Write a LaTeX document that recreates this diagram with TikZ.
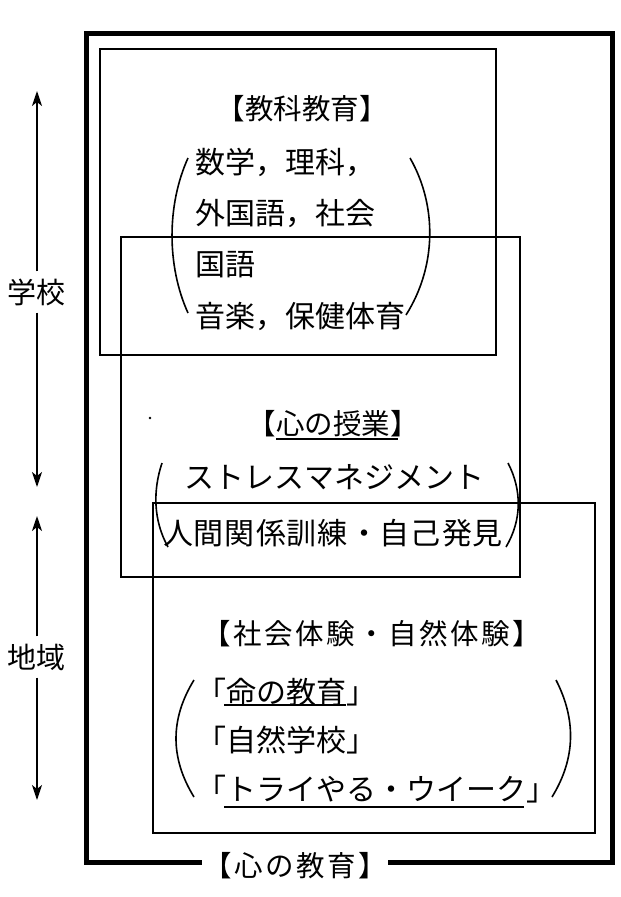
\documentclass[tikz,border=0pt]{standalone}
\usepackage{fontspec}
\setmainfont{Noto Sans CJK JP}
\usetikzlibrary{arrows.meta}
\makeatletter
\newcommand\sptext[2]{\@tfor\sp@c:=#2\do{\makebox[#1]{\sp@c}}}
\makeatother
\tikzset{
  hd/.style={inner sep=0pt, font=\fontsize{28.5pt}{30pt}\selectfont},
  bd/.style={inner sep=0pt, font=\fontsize{30pt}{32pt}\selectfont},
  side/.style={inner xsep=0pt, inner ysep=7pt, font=\fontsize{29pt}{30pt}\selectfont},
  arr/.style={-{Stealth[length=15pt,width=10pt,inset=4pt]}, line width=1.5pt},
  thinbox/.style={line width=1.3pt},
  paren/.style={line width=1.6pt},
}
\begin{document}
\begin{tikzpicture}[x=1pt,y=-1pt]
\useasboundingbox (0,0) rectangle (621,897);
% outer frame
\draw[line width=5pt] (86,33) rectangle (612,862);
% inner boxes
\draw[thinbox] (100,49) rectangle (496,355);
\draw[thinbox] (121,237) rectangle (520,577);
\draw[thinbox] (153,503) rectangle (595,833);
% box 1
\node[hd] (h1) at (302,109) {【教科教育】};
\node[bd, anchor=west] (l1) at (195,162) {数学，理科，};
\node[bd, anchor=west] (l2) at (195,213) {外国語，社会};
\node[bd, anchor=west] (l3) at (195,265) {国語};
\node[bd, anchor=west] (l4) at (195,316) {音楽，保健体育};
\draw[paren] (188,158) .. controls (166.7,205) and (166.7,266) .. (188,313);
\draw[paren] (410,158) .. controls (437,205) and (437,266) .. (406,315);
% box 2
\node[hd] (h2) at (333,424) {【心の授業】};
\draw[line width=1.2pt] (276,439) -- (398,439);
\fill (150,418) circle (1.3pt);
\node[bd] (m1) at (334,477) {\sptext{30pt}{ストレスマネジメント}};
\node[bd] (m2) at (333,533) {\sptext{31pt}{人間関係訓練・自己発見}};
\draw[paren] (162,463) .. controls (153,490) and (153,520) .. (168,547);
\draw[paren] (508,463) .. controls (522,490) and (522,520) .. (506,547);
% box 3
\node[hd] (h3) at (372,634) {\sptext{31pt}{【社会体験・自然体験】}};
\node[bd, anchor=west] (n1) at (196,692) {「命の教育」};
\draw[line width=1.2pt] (224,705) -- (346,705);
\node[bd, anchor=west] (n2) at (196,740) {「自然学校」};
\node[bd, anchor=west] (n3) at (196,789) {「トライやる・ウイーク」};
\draw[line width=1.2pt] (224,807) -- (524,807);
\draw[paren] (194,680) .. controls (170,719) and (170,758) .. (194,797);
\draw[paren] (556,680) .. controls (576,719) and (576,758) .. (552,797);
% bottom label
\node[hd, fill=white, minimum width=182pt, inner ysep=3pt] (bot) at (295,866) {\sptext{31pt}{【心の教育】}};
% side labels and arrows
\node[side] (school) at (37,292) {学校};
\coordinate (sTop) at (37,91);
\coordinate (sBot) at (37,487);
\draw[arr] (school.north) -- (sTop);
\draw[arr] (school.south) -- (sBot);
\node[side] (region) at (37,657) {地域};
\coordinate (rTop) at (37,516);
\coordinate (rBot) at (37,800);
\draw[arr] (region.north) -- (rTop);
\draw[arr] (region.south) -- (rBot);
\end{tikzpicture}
\end{document}
